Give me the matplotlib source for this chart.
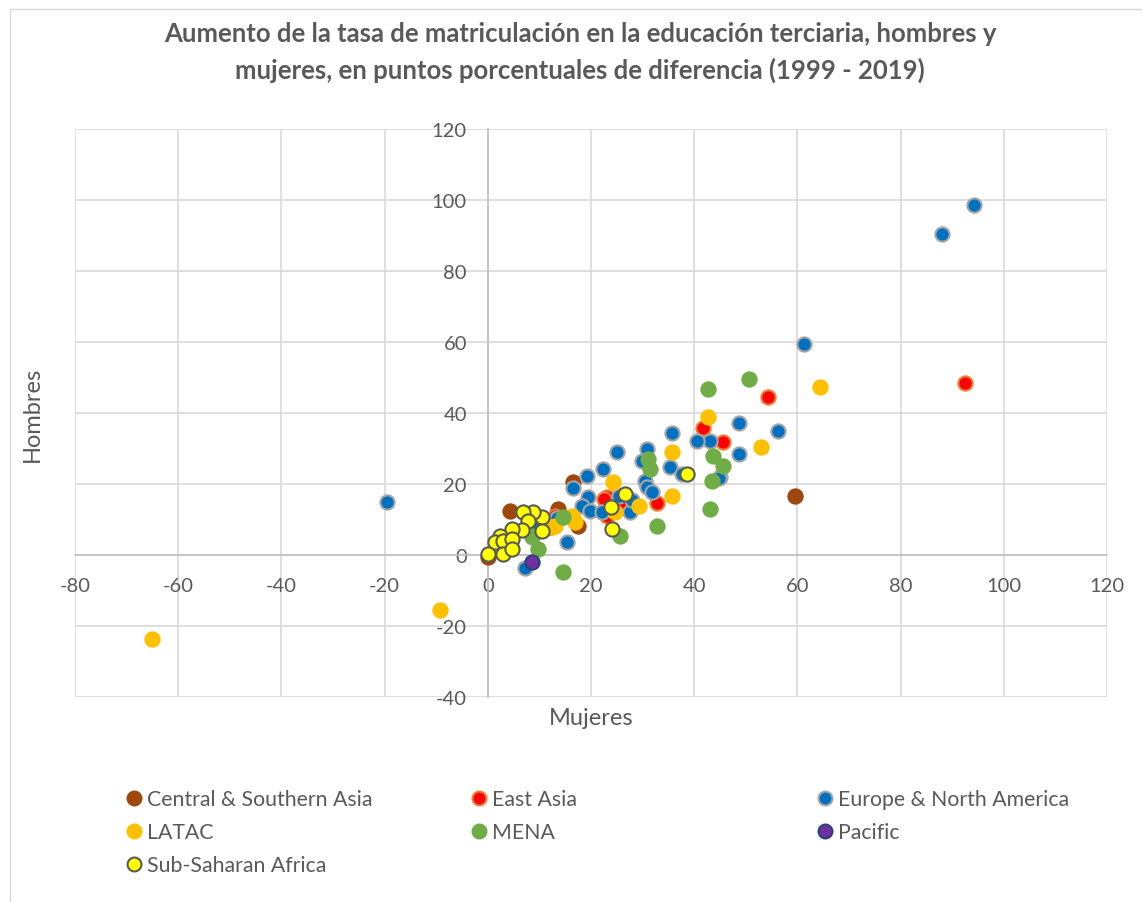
import matplotlib.pyplot as plt
from matplotlib.lines import Line2D
from matplotlib.patches import Rectangle

plt.rcParams["font.family"] = ["Lato", "DejaVu Sans"]
plt.rcParams["axes.unicode_minus"] = False

# ---- data (x = Mujeres, y = Hombres)
cs_asia_x = [59.6, 16.5, 4.3, 17.5, 13.6, 12.0, 0.0, 10.0]
cs_asia_y = [16.6, 20.5, 12.4, 8.2, 13.0, 8.0, -0.6, 9.5]

east_asia_x = [92.5, 54.3, 45.6, 41.7, 32.8, 23.1, 22.5, 23.1, 13.0, 14.0, 26.0]
east_asia_y = [48.5, 44.5, 31.8, 35.8, 14.6, 16.3, 15.8, 11.0, 11.0, 10.5, 15.0]

europe_x = [-19.5, 94.3, 88.0, 61.3, 56.3, 48.7, 48.7, 45.0, 43.1, 40.6, 35.7,
            35.3, 30.9, 29.9, 30.5, 30.9, 31.9, 25.0, 22.3, 19.3, 16.5, 19.4,
            18.3, 19.8, 22.2, 27.6, 28.0, 25.5, 15.3, 8.6, 7.2, 13.5, 9.5,
            37.7, 44.8]
europe_y = [14.8, 98.5, 90.5, 59.3, 34.9, 37.2, 28.5, 22.0, 32.1, 32.1, 34.4,
            24.8, 29.9, 26.5, 20.8, 19.2, 17.7, 29.0, 24.2, 22.3, 19.0, 16.3,
            13.8, 12.4, 12.1, 12.1, 15.5, 16.5, 3.7, 5.0, -3.7, 10.5, 8.5,
            22.8, 21.7]

latac_x = [-65.0, -9.3, 64.3, 53.0, 42.7, 35.7, 35.7, 29.3, 24.3, 24.7, 16.3,
           16.9, 13.0, 12.5]
latac_y = [-23.8, -15.5, 47.2, 30.4, 38.8, 29.0, 16.6, 13.8, 20.5, 12.0, 11.0,
           9.3, 8.2, 8.0]

mena_x = [50.6, 42.7, 43.7, 45.6, 43.5, 43.1, 32.8, 31.1, 31.5, 25.6, 14.6,
          9.7, 14.6, 8.6]
mena_y = [49.6, 46.8, 27.9, 25.1, 20.8, 13.0, 8.2, 27.0, 24.2, 5.4, -4.8,
          1.7, 10.7, 5.4]

pacific_x = [8.6]
pacific_y = [-2.0]

ssa_x = [38.6, 26.6, 23.9, 24.1, 10.5, 8.8, 6.8, 7.8, 10.5, 6.6, 4.7, 2.4,
         1.4, 3.0, 4.7, 0.0, 3.0, 4.7]
ssa_y = [22.8, 17.2, 13.5, 7.3, 10.7, 12.1, 12.1, 9.6, 6.8, 7.0, 7.3, 5.4,
         3.7, 3.9, 4.5, 0.3, 0.3, 1.7]

series = [
    ("Central & Southern Asia", cs_asia_x, cs_asia_y, "#9E480E", "#9E480E"),
    ("East Asia", east_asia_x, east_asia_y, "#FF0000", "#ED7D31"),
    ("Europe & North America", europe_x, europe_y, "#0070C0", "#A5A5A5"),
    ("LATAC", latac_x, latac_y, "#FFC000", "#FFC000"),
    ("MENA", mena_x, mena_y, "#70AD47", "#70AD47"),
    ("Pacific", pacific_x, pacific_y, "#7030A0", "#264478"),
    ("Sub-Saharan Africa", ssa_x, ssa_y, "#FFFF00", "#595959"),
]

txt = "#595959"
fig = plt.figure(figsize=(11.42, 9.03), dpi=100)
fig.patches.append(Rectangle((10 / 1142, -0.01), 1.2, 1 - 10 / 903 + 0.01,
                             transform=fig.transFigure, fill=False,
                             edgecolor="#D9D9D9", lw=1))
ax = fig.add_axes([75 / 1142, 1 - 698 / 903, (1107 - 75) / 1142, (698 - 130) / 903])

for name, xs, ys, fc, ec in series:
    ax.scatter(xs, ys, s=105, c=fc, edgecolors=ec, linewidths=1.5, zorder=3)

ax.set_xlim(-80, 120)
ax.set_ylim(-40, 120)
ax.set_xticks(range(-80, 121, 20))
ax.set_yticks(range(-40, 121, 20))
ax.grid(True, color="#D9D9D9", lw=1.2, zorder=0)
ax.set_axisbelow(True)
ax.spines["left"].set_position(("data", 0))
ax.spines["bottom"].set_position(("data", 0))
for sp in ("top", "right"):
    ax.spines[sp].set_visible(False)
for sp in ("left", "bottom"):
    ax.spines[sp].set_color("#BFBFBF")
    ax.spines[sp].set_linewidth(1.2)
ax.tick_params(length=0, colors=txt, labelsize=14.5)
ax.tick_params(axis="y", pad=15)
ax.tick_params(axis="x", pad=16)

ax.set_xlabel("Mujeres", fontsize=17, color=txt)
ax.set_ylabel("Hombres", fontsize=17, color=txt)
ax.xaxis.set_label_coords(0.5, -0.018)
ax.yaxis.set_label_coords(-0.031, 0.5)

fig.suptitle("Aumento de la tasa de matriculación en la educación terciaria, hombres y\n"
             "mujeres, en puntos porcentuales de diferencia (1999 - 2019)",
             x=580 / 1142, y=1 - 22 / 903, fontsize=18.5, fontweight="bold",
             color=txt, linespacing=1.55)

# legend: three columns, like the Excel layout
cols = [[0, 3, 6], [1, 4], [2, 5]]
col_x = [128, 473, 819]
for idx, cx in zip(cols, col_x):
    handles = [Line2D([], [], ls="none", marker="o", markersize=10,
                      markerfacecolor=series[i][3], markeredgecolor=series[i][4],
                      markeredgewidth=1.5) for i in idx]
    labels = [series[i][0] for i in idx]
    leg = fig.legend(handles, labels, loc="upper left",
                     bbox_to_anchor=(cx / 1142, 1 - 790 / 903), frameon=False,
                     fontsize=15.3, handlelength=0.6, handletextpad=0.3,
                     labelspacing=0.62, borderpad=0, borderaxespad=0)
    for t in leg.get_texts():
        t.set_color(txt)

fig.savefig("out.png", dpi=100, facecolor="white")
